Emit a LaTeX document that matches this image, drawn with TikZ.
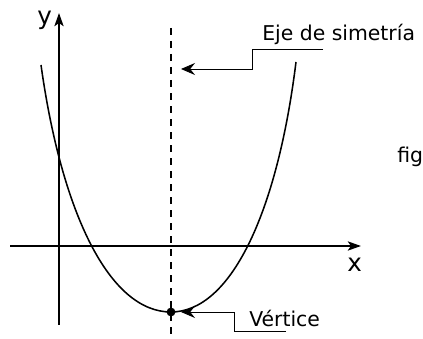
\documentclass[tikz,border=0pt]{standalone}
\usepackage{fontspec}
\setmainfont{DejaVu Sans}
\usetikzlibrary{arrows.meta}

\begin{document}
\begin{tikzpicture}[x=0.25mm, y=-0.25mm,
  axis/.style={line width=1.4pt, -{Stealth[length=3.3mm, width=2.3mm, inset=0.8mm]}},
  curve/.style={line width=1.1pt},
  leader/.style={line width=0.7pt, -{Stealth[length=3.5mm, width=3mm, inset=1.2mm]}},
  label/.style={font=\fontsize{14.5}{17}\selectfont, inner sep=0pt, anchor=base west},
  axlabel/.style={label, font=\fontsize{17.5}{20}\selectfont}
]
\useasboundingbox (0,0) rectangle (423,339);

% ejes
\coordinate (xl) at (10,246);
\coordinate (xr) at (361,246);
\coordinate (yb) at (59,325);
\coordinate (yt) at (59,13);
\draw[axis] (xl) -- (xr);
\draw[axis] (yb) -- (yt);
\node[axlabel] (ylab) at (37,25) {y};
\node[axlabel] (xlab) at (347,272) {x};

% eje de simetria
\coordinate (ejetop) at (171,28);
\coordinate (ejebot) at (171,339);
\draw[dash pattern=on 1.75mm off 1.5mm, line width=1.1pt] (ejetop) -- (ejebot);

% parabola
\coordinate (pl) at (41,65);
\coordinate (p0) at (171,312);
\coordinate (pr) at (296,62);
\draw[curve] (pl) .. controls (62,215) and (110,312) .. (p0)
                  .. controls (230,312) and (277,215) .. (pr);
\node[circle, fill, inner sep=0pt, minimum size=2.2mm] (vert) at (p0) {};

% rotulos
\node[label] (eje) at (262,41) {Eje de simetría};
\coordinate (e1) at (323,49);
\coordinate (e2) at (252,49);
\coordinate (e3) at (252,69);
\coordinate (e4) at (181,69);
\draw[leader] (e1) -- (e2) -- (e3) -- (e4);

\node[label] (vlab) at (249,327) {Vértice};
\coordinate (v1) at (286,331);
\coordinate (v2) at (234,331);
\coordinate (v3) at (234,312);
\coordinate (v4) at (181,312);
\draw[leader] (v1) -- (v2) -- (v3) -- (v4);

\node[label] (fig) at (397,163) {fig};
\end{tikzpicture}
\end{document}
